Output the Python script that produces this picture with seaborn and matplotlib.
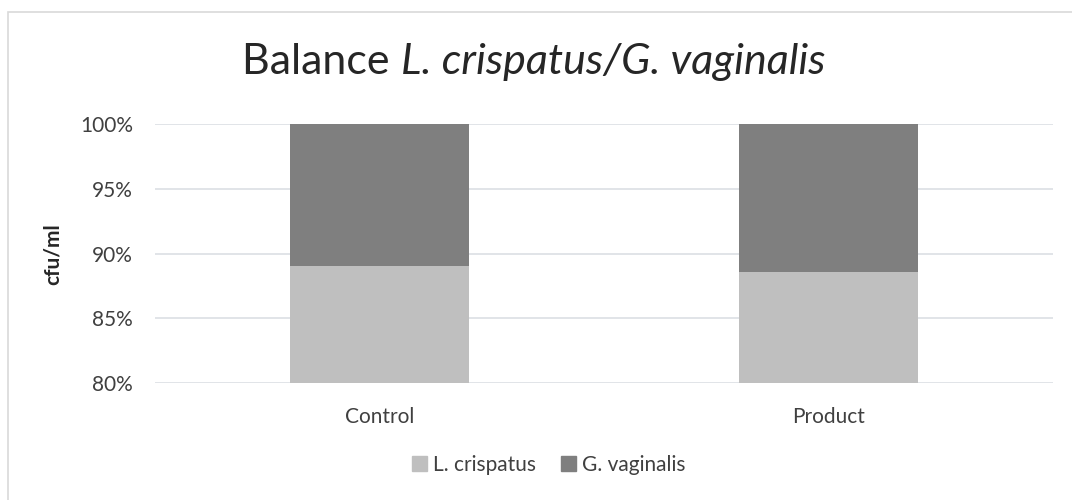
import matplotlib
matplotlib.use("Agg")
import matplotlib.pyplot as plt
import matplotlib.patches as mpatches
import pandas as pd
import seaborn as sns

groups = ["Control", "Product"]
l_crispatus = [89.05, 88.55]
g_vaginalis = [10.95, 11.45]
series_names = ["L. crispatus", "G. vaginalis"]
yticks = [80, 85, 90, 95, 100]

sns.set_theme(style="white")
plt.rcParams['font.family'] = ['Lato', 'DejaVu Sans']

df = pd.DataFrame({"group": groups, "lc": l_crispatus, "gv": g_vaginalis})
df["total"] = df["lc"] + df["gv"]

fig = plt.figure(figsize=(10.72, 5.0), dpi=100)
ax = fig.add_axes([0.1446, 0.2334, 0.8377, 0.5186])

light = "#BFBFBF"
dark = "#7F7F7F"
# stacked: draw total first (dark), then bottom part (light)
sns.barplot(data=df, x="group", y="total", color=dark, width=0.4, saturation=1,
            linewidth=0, ax=ax, zorder=2)
sns.barplot(data=df, x="group", y="lc", color=light, width=0.4, saturation=1,
            linewidth=0, ax=ax, zorder=3)

fs = 15
ax.set_ylim(80, 100)
ax.set_xlim(-0.5, 1.5)
ax.set_yticks(yticks)
ax.set_yticklabels([f"{t}%" for t in yticks], fontsize=fs, color="#404040")
ax.tick_params(axis="x", labelsize=fs, labelcolor="#404040", pad=17, length=0)
ax.tick_params(axis="y", length=0, pad=16)
ax.set_xlabel("")
ax.set_ylabel("cfu/ml", fontsize=fs, fontweight="bold", color="#262626", labelpad=12)
ax.yaxis.grid(True, color="#DCDFE4", linewidth=1.2, zorder=0)
ax.set_axisbelow(True)
for s in ax.spines.values():
    s.set_visible(False)

# title: regular part + italic part, centred together
t1 = fig.text(0, 0.876, "Balance ", fontsize=31, color="#262626", va="center")
t2 = fig.text(0, 0.876, "L. crispatus/G. vaginalis", fontsize=31, color="#262626",
              style="italic", va="center")
r = fig.canvas.get_renderer()
w1 = t1.get_window_extent(r).width / fig.bbox.width
w2 = t2.get_window_extent(r).width / fig.bbox.width
x0 = 0.498 - (w1 + w2) / 2
t1.set_x(x0)
t2.set_x(x0 + w1)

handles = [mpatches.Patch(color=light, label=series_names[0]),
           mpatches.Patch(color=dark, label=series_names[1])]
fig.legend(handles=handles, loc="center", bbox_to_anchor=(0.512, 0.07), ncol=2,
           frameon=False, fontsize=fs, handlelength=0.7, handleheight=0.7,
           handletextpad=0.3, columnspacing=1.2, labelcolor="#404040")

border = mpatches.Rectangle((8 / 1072, -0.1), 1.2, 1.1 - 12 / 500,
                            transform=fig.transFigure, fill=False,
                            edgecolor="#D9D9D9", linewidth=1.2)
fig.patches.append(border)

fig.savefig("out.png", dpi=100)
